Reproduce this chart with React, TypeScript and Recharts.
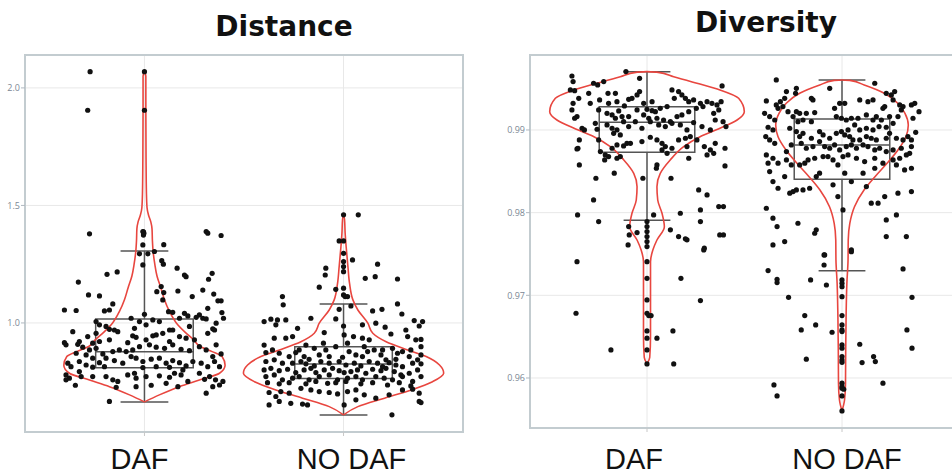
import {
  ScatterChart,
  Scatter,
  XAxis,
  YAxis,
  CartesianGrid,
  ReferenceArea,
  ReferenceLine,
} from 'recharts';

type Pair = [number, number];

const categories = ['DAF', 'NO DAF'];

const distanceTicks = [1.0, 1.5, 2.0];
const diversityTicks = [0.96, 0.97, 0.98, 0.99];

// [lower whisker, q1, median, q3, upper whisker]
const distanceBoxes = [
  [0.664, 0.809, 0.877, 1.017, 1.306],
  [0.608, 0.764, 0.825, 0.899, 1.081],
];
const diversityBoxes = [
  [0.97907, 0.9873, 0.99093, 0.99282, 0.99705],
  [0.97298, 0.98403, 0.98819, 0.99133, 0.99605],
];

// violin outlines: [value, half width]
const distanceDafViolin: Pair[] = [
  [2.069, 0], [2.05, 0.007], [1.9, 0.007], [1.7, 0.008], [1.55, 0.01], [1.49, 0.013],
  [1.46, 0.02], [1.43, 0.032], [1.4, 0.038], [1.35, 0.04], [1.3, 0.044], [1.25, 0.052],
  [1.2, 0.063], [1.15, 0.082], [1.1, 0.1], [1.05, 0.125], [1.0, 0.16], [0.96, 0.205],
  [0.93, 0.245], [0.9, 0.28], [0.878, 0.34], [0.857, 0.39], [0.82, 0.405], [0.786, 0.377],
  [0.757, 0.276], [0.729, 0.176], [0.694, 0.075], [0.664, 0],
];
const distanceNoDafViolin: Pair[] = [
  [1.46, 0], [1.44, 0.005], [1.382, 0.008], [1.325, 0.013], [1.24, 0.022], [1.169, 0.03],
  [1.098, 0.047], [1.055, 0.072], [0.999, 0.122], [0.956, 0.147], [0.92, 0.214], [0.885, 0.322],
  [0.857, 0.415], [0.821, 0.482], [0.786, 0.503], [0.75, 0.447], [0.715, 0.34], [0.68, 0.206],
  [0.644, 0.072], [0.609, 0],
];
const diversityDafViolin: Pair[] = [
  [0.99706, 0], [0.997, 0.05], [0.99645, 0.137], [0.99565, 0.256], [0.99484, 0.374],
  [0.99383, 0.47], [0.99222, 0.499], [0.99121, 0.462], [0.9902, 0.374], [0.98919, 0.272],
  [0.98798, 0.188], [0.98637, 0.119], [0.98476, 0.068], [0.98314, 0.051], [0.98153, 0.055],
  [0.97992, 0.077], [0.9783, 0.089], [0.97669, 0.051], [0.97548, 0.03], [0.97407, 0.018],
  [0.97, 0.018], [0.965, 0.018], [0.9625, 0.014], [0.9617, 0],
];
const diversityNoDafViolin: Pair[] = [
  [0.99605, 0], [0.996, 0.04], [0.99544, 0.114], [0.99444, 0.217], [0.99323, 0.286],
  [0.99202, 0.323], [0.9906, 0.34], [0.98919, 0.328], [0.98758, 0.287], [0.98597, 0.231],
  [0.98435, 0.169], [0.98274, 0.113], [0.98072, 0.064], [0.97871, 0.04], [0.97669, 0.032],
  [0.97427, 0.031], [0.97146, 0.025], [0.96742, 0.021], [0.96339, 0.019], [0.95936, 0.018],
  [0.95734, 0.013], [0.95601, 0],
];

// jittered points: [offset from category, value]
const distanceDafPoints: Pair[] = [
  [-0.273, 2.069], [-0.285, 1.905], [0, 2.069], [0, 1.905], [-0.005, 1.388], [-0.003, 1.382],
  [-0.276, 1.379], [-0.008, 1.389], [-0.005, 1.374], [0.31, 1.389], [0.318, 1.382], [0.385, 1.372],
  [-0.008, 1.332], [0.097, 1.333], [-0.025, 1.294], [0.017, 1.294], [0.05, 1.304], [-0.008, 1.247],
  [0.087, 1.265], [0.095, 1.25], [0.164, 1.233], [-0.188, 1.207], [-0.137, 1.217], [0.201, 1.204],
  [0.209, 1.197], [0.34, 1.211], [-0.332, 1.174], [0.084, 1.155], [0.322, 1.186], [-0.281, 1.119],
  [-0.226, 1.115], [0.062, 1.133], [0.097, 1.129], [0.168, 1.136], [0.24, 1.112], [0.348, 1.123],
  [0.293, 1.14], [-0.402, 1.055], [-0.343, 1.053], [-0.201, 1.051], [-0.176, 1.055], [-0.159, 1.081],
  [0.092, 1.098], [0, 1.037], [0.121, 1.048], [0.142, 1.045], [0.201, 1.041], [0.218, 1.03],
  [0.276, 1.034], [0.318, 1.062], [0.369, 1.094], [0.385, 1.094], [0.389, 1.044], [0.397, 1.02],
  [-0.243, 1.006], [-0.193, 0.985], [-0.067, 1.02], [-0.025, 1.006], [0.042, 1.013], [0.075, 1.006],
  [0.176, 1.02], [0.26, 1.024], [0.293, 1.02], [0.31, 1.017], [0.36, 0.999], [-0.226, 0.992],
  [-0.176, 0.973], [-0.151, 0.97], [-0.05, 0.977], [0.008, 0.992], [0.126, 0.97], [0.226, 0.985],
  [0.343, 0.975], [-0.36, 0.963], [-0.285, 0.942], [-0.243, 0.956], [-0.134, 0.963], [-0.059, 0.945],
  [-0.042, 0.939], [0.008, 0.928], [0.042, 0.945], [0.059, 0.949], [0.092, 0.956], [0.142, 0.97],
  [0.176, 0.942], [0.209, 0.935], [0.251, 0.928], [0.318, 0.956], [0.352, 0.97], [-0.402, 0.916],
  [-0.327, 0.921], [-0.26, 0.914], [-0.226, 0.921], [-0.176, 0.928], [-0.084, 0.916], [0.126, 0.921],
  [-0.394, 0.907], [-0.335, 0.909], [-0.31, 0.897], [-0.276, 0.885], [-0.243, 0.892], [-0.209, 0.868],
  [-0.159, 0.878], [-0.126, 0.885], [-0.092, 0.878], [-0.059, 0.885], [-0.025, 0.899], [0.025, 0.907],
  [0.059, 0.897], [0.101, 0.892], [0.142, 0.907], [0.184, 0.888], [0.226, 0.882], [0.276, 0.899],
  [0.31, 0.885], [0.36, 0.907], [0.385, 0.868], [0.343, 0.857], [-0.293, 0.864], [-0.343, 0.871],
  [-0.385, 0.829], [-0.369, 0.814], [-0.327, 0.836], [-0.293, 0.821], [-0.26, 0.85], [-0.226, 0.831],
  [-0.193, 0.85], [-0.151, 0.84], [-0.109, 0.829], [-0.067, 0.857], [-0.042, 0.85], [-0.008, 0.836],
  [0.034, 0.846], [0.075, 0.85], [0.109, 0.829], [0.142, 0.84], [0.176, 0.831], [0.209, 0.817],
  [0.243, 0.836], [0.285, 0.829], [0.318, 0.814], [0.352, 0.836], [0.377, 0.814], [-0.26, 0.812],
  [-0.201, 0.814], [-0.008, 0.81], [0.059, 0.814], [0.126, 0.811], [0.193, 0.8], [-0.394, 0.779],
  [-0.377, 0.765], [-0.327, 0.793], [-0.318, 0.772], [-0.26, 0.772], [-0.193, 0.772], [-0.159, 0.758],
  [-0.134, 0.751], [-0.084, 0.779], [-0.05, 0.786], [-0.042, 0.765], [0.008, 0.772], [0.075, 0.775],
  [0.126, 0.769], [0.151, 0.786], [0.184, 0.779], [0.218, 0.751], [0.276, 0.786], [0.302, 0.76],
  [0.327, 0.772], [0.357, 0.758], [0.394, 0.751], [0.377, 0.736], [-0.394, 0.758], [-0.347, 0.735],
  [-0.142, 0.726], [-0.042, 0.729], [0.034, 0.735], [0.109, 0.743], [0.168, 0.729], [0.31, 0.701],
  [0.343, 0.729], [-0.176, 0.666],
];

const distanceNoDafPoints: Pair[] = [
  [0, 1.46], [0.074, 1.46], [-0.022, 1.349], [0, 1.349], [0, 1.296], [0.045, 1.268], [0, 1.261],
  [0, 1.24], [0, 1.218], [0.171, 1.25], [-0.089, 1.233], [-0.092, 1.204], [0.109, 1.19], [0.159, 1.197],
  [0.271, 1.187], [-0.122, 1.152], [-0.039, 1.143], [0, 1.148], [0, 1.119], [0.008, 1.112], [0.02, 1.112],
  [-0.307, 1.112], [-0.303, 1.077], [0.271, 1.081], [-0.022, 1.058], [0.037, 1.072], [0.146, 1.051],
  [0.193, 1.058], [0.293, 1.038], [-0.399, 1.006], [-0.365, 1.016], [-0.34, 0.992], [-0.332, 1.013],
  [-0.29, 1.013], [-0.164, 1.02], [-0.039, 1.017], [0, 0.987], [0.095, 0.992], [0.162, 0.999],
  [0.209, 0.982], [0.355, 1.01], [0.397, 1.006], [0.38, 0.987], [-0.231, 0.977], [-0.097, 0.959],
  [0.003, 0.949], [0.05, 0.942], [0.095, 0.935], [0.129, 0.928], [0.238, 0.953], [0.313, 0.97],
  [0.322, 0.942], [0.363, 0.928], [0.389, 0.93], [-0.399, 0.906], [-0.39, 0.874], [-0.348, 0.935],
  [-0.29, 0.935], [-0.256, 0.942], [-0.189, 0.906], [-0.223, 0.885], [-0.147, 0.892], [-0.101, 0.914],
  [-0.089, 0.885], [-0.039, 0.899], [0.02, 0.914], [0.028, 0.878], [0.104, 0.899], [0.121, 0.878],
  [0.154, 0.885], [0.196, 0.885], [0.246, 0.892], [0.271, 0.871], [0.296, 0.878], [0.338, 0.885],
  [0.389, 0.899], [0.389, 0.864], [-0.357, 0.885], [-0.323, 0.871], [-0.273, 0.857], [-0.24, 0.874],
  [-0.198, 0.857], [-0.173, 0.845], [-0.122, 0.864], [-0.072, 0.857], [-0.005, 0.854], [0.062, 0.864],
  [0.095, 0.857], [0.188, 0.864], [0.213, 0.843], [0.263, 0.845], [0.33, 0.857], [0.372, 0.843],
  [-0.39, 0.836], [-0.348, 0.843], [-0.307, 0.829], [-0.256, 0.829], [-0.214, 0.836], [-0.189, 0.826],
  [-0.147, 0.817], [-0.114, 0.836], [-0.072, 0.829], [-0.022, 0.836], [0.012, 0.821], [0.054, 0.829],
  [0.087, 0.817], [0.129, 0.836], [0.171, 0.829], [0.196, 0.814], [0.229, 0.831], [0.263, 0.821],
  [0.296, 0.814], [0.347, 0.829], [0.389, 0.826], [-0.399, 0.8], [-0.365, 0.807], [-0.323, 0.797],
  [-0.281, 0.803], [-0.24, 0.789], [-0.198, 0.8], [-0.164, 0.807], [-0.139, 0.789], [-0.097, 0.8],
  [-0.055, 0.807], [-0.022, 0.797], [0.003, 0.789], [0.037, 0.793], [0.07, 0.8], [0.112, 0.786],
  [0.146, 0.803], [0.188, 0.797], [0.213, 0.807], [0.255, 0.793], [0.288, 0.779], [0.33, 0.786],
  [0.372, 0.8], [-0.39, 0.772], [-0.348, 0.779], [-0.307, 0.758], [-0.256, 0.765], [-0.223, 0.772],
  [-0.173, 0.758], [-0.122, 0.772], [-0.072, 0.779], [-0.03, 0.758], [0.02, 0.765], [0.062, 0.772],
  [0.095, 0.758], [0.162, 0.772], [0.204, 0.765], [0.246, 0.758], [0.296, 0.772], [0.347, 0.751],
  [0.389, 0.772], [-0.382, 0.746], [-0.323, 0.741], [-0.273, 0.746], [-0.189, 0.741], [-0.139, 0.751],
  [-0.08, 0.743], [-0.039, 0.746], [0.012, 0.751], [0.087, 0.741], [0.146, 0.746], [0.221, 0.736],
  [0.28, 0.746], [0.338, 0.732], [-0.374, 0.704], [-0.34, 0.687], [-0.315, 0.708], [-0.273, 0.701],
  [-0.214, 0.722], [-0.164, 0.715], [-0.122, 0.708], [-0.072, 0.704], [-0.03, 0.698], [0.02, 0.708],
  [0.062, 0.715], [0.104, 0.694], [0.162, 0.68], [0.229, 0.694], [0.296, 0.715], [0.347, 0.718],
  [0.38, 0.701], [-0.374, 0.651], [-0.323, 0.666], [-0.265, 0.658], [-0.206, 0.655], [-0.181, 0.651],
  [0.003, 0.651], [0.062, 0.673], [0.38, 0.666], [0.389, 0.661], [0.243, 0.609],
];

const diversityDafPoints: Pair[] = [
  [-0.385, 0.99653], [-0.379, 0.99585], [-0.393, 0.99484], [-0.371, 0.99476], [-0.35, 0.99383],
  [-0.379, 0.99323], [-0.385, 0.99242], [-0.359, 0.99162], [-0.371, 0.99142], [-0.333, 0.99021],
  [-0.321, 0.99001], [-0.347, 0.9888], [-0.354, 0.98779], [-0.359, 0.98771], [-0.347, 0.98577],
  [-0.262, 0.98416], [-0.274, 0.98154], [-0.356, 0.97973], [-0.248, 0.97892], [-0.274, 0.99565],
  [-0.299, 0.99444], [-0.253, 0.99545], [-0.222, 0.99585], [-0.291, 0.99323], [-0.243, 0.99363],
  [-0.248, 0.99242], [-0.265, 0.99081], [-0.256, 0.99009], [-0.248, 0.9888], [-0.239, 0.98739],
  [-0.214, 0.98698], [-0.217, 0.98638], [-0.197, 0.98678], [-0.168, 0.98477], [-0.154, 0.98658],
  [-0.137, 0.98678], [-0.108, 0.99706], [-0.038, 0.99625], [-0.2, 0.99444], [-0.162, 0.99444],
  [-0.197, 0.99323], [-0.154, 0.99343], [-0.145, 0.9923], [-0.116, 0.99291], [-0.094, 0.99371],
  [-0.077, 0.99383], [-0.051, 0.99424], [-0.038, 0.99464], [-0.017, 0.99323], [0, 0.9925],
  [0.026, 0.99343], [0.026, 0.99234], [0.043, 0.99222], [0.068, 0.99262], [0.103, 0.99283],
  [0.128, 0.99484], [0.14, 0.99383], [0.162, 0.99464], [0.179, 0.99424], [0.197, 0.99383],
  [0.214, 0.99343], [0.239, 0.99363], [0.274, 0.99323], [0.308, 0.99343], [0.333, 0.99323],
  [0.359, 0.99303], [0.368, 0.99242], [0.342, 0.99202], [-0.205, 0.99202], [-0.179, 0.99182],
  [-0.162, 0.99142], [-0.128, 0.99162], [-0.094, 0.99162], [-0.051, 0.99242], [-0.017, 0.99182],
  [0.009, 0.99142], [0.051, 0.99142], [0.085, 0.99121], [0.12, 0.99101], [0.154, 0.99162],
  [0.179, 0.99182], [0.214, 0.99222], [0.253, 0.99262], [0.287, 0.99283], [-0.205, 0.99061],
  [-0.179, 0.99021], [-0.154, 0.99001], [-0.12, 0.99101], [-0.094, 0.99041], [-0.06, 0.99101],
  [-0.026, 0.99021], [0.017, 0.99101], [0.06, 0.99061], [0.094, 0.99041], [0.128, 0.99081],
  [0.171, 0.99061], [0.205, 0.99001], [0.239, 0.99089], [0.282, 0.99041], [0.325, 0.99001],
  [0.35, 0.99121], [-0.171, 0.9896], [-0.137, 0.9894], [-0.103, 0.98839], [-0.085, 0.98839],
  [-0.026, 0.9886], [0.017, 0.98912], [0.051, 0.9888], [0.077, 0.98839], [0.094, 0.98799],
  [0.128, 0.98779], [0.162, 0.9888], [0.197, 0.989], [0.222, 0.9892], [0.256, 0.9888],
  [0.294, 0.98799], [0.325, 0.98759], [0.342, 0.98718], [0.35, 0.98839], [-0.154, 0.98819],
  [-0.12, 0.98807], [-0.179, 0.98779], [0.077, 0.98759], [0.103, 0.98718], [0.205, 0.98799],
  [0.214, 0.98658], [0.308, 0.98698], [0.051, 0.98577], [0.048, 0.98537], [-0.021, 0.98416],
  [0.123, 0.98416], [0.171, 0.97993], [0.205, 0.97671], [0.265, 0.98275], [0.308, 0.98215],
  [0.368, 0.98074], [0.274, 0.98033], [0.274, 0.97892], [0.373, 0.97731], [0.034, 0.97973],
  [-0.094, 0.97832], [-0.091, 0.97731], [-0.051, 0.97759], [-0.097, 0.9761], [0, 0.97892],
  [0, 0.97832], [0, 0.97771], [0, 0.97711], [0, 0.9765], [0, 0.9759], [0.12, 0.97792],
  [0.162, 0.97711], [0.197, 0.97683], [0.294, 0.9757], [-0.359, 0.97407], [-0.364, 0.96783],
  [-0.185, 0.96339], [0, 0.97407], [0, 0.97206], [0, 0.96944], [0, 0.96783], [0.009, 0.96755],
  [0.021, 0.96755], [0, 0.96569], [0, 0.96481], [0.051, 0.96481], [0.133, 0.96569], [0.137, 0.9617],
  [0, 0.96339], [0, 0.9617], [0.174, 0.97206], [0.274, 0.96936], [0.291, 0.97549], [0.385, 0.99533],
  [0.39, 0.99101], [0.4, 0.98779], [0.4, 0.98565], [0.392, 0.98074], [0.392, 0.97731], [0.38, 0.99343],
  [0.405, 0.99041],
];

const diversityNoDafPoints: Pair[] = [
  [-0.337, 0.99605], [-0.234, 0.99504], [-0.238, 0.99444], [-0.285, 0.99464], [-0.294, 0.99383],
  [-0.316, 0.99343], [-0.337, 0.99303], [-0.328, 0.99262], [-0.388, 0.99351], [-0.397, 0.99202],
  [-0.371, 0.99162], [-0.345, 0.99121], [-0.379, 0.99033], [-0.354, 0.99001], [-0.391, 0.9892],
  [-0.371, 0.9888], [-0.345, 0.98839], [-0.303, 0.99283], [-0.277, 0.99222], [-0.251, 0.99162],
  [-0.234, 0.99222], [-0.217, 0.99202], [-0.183, 0.99202], [-0.14, 0.9921], [-0.226, 0.99101],
  [-0.2, 0.99121], [-0.157, 0.99101], [-0.149, 0.99363], [-0.157, 0.99383], [-0.063, 0.99504],
  [-0.038, 0.99262], [-0.012, 0.99323], [0.014, 0.99323], [-0.029, 0.99162], [-0.003, 0.99142],
  [0.022, 0.99121], [0.048, 0.99142], [0.082, 0.99142], [0.125, 0.99182], [0.159, 0.99121],
  [0.176, 0.99162], [0.202, 0.99121], [0.21, 0.99262], [0.219, 0.99283], [0.244, 0.99162],
  [0.065, 0.99061], [0.091, 0.99001], [0.125, 0.99021], [0.159, 0.99001], [0.19, 0.99041],
  [0.227, 0.99033], [0.262, 0.99081], [0.287, 0.99162], [0.304, 0.99242], [0.313, 0.99283],
  [0.356, 0.99303], [0.373, 0.99323], [0.395, 0.99222], [0.364, 0.99142], [0.378, 0.98972],
  [0.091, 0.99363], [0.133, 0.99343], [0.159, 0.99363], [0.168, 0.99565], [0.227, 0.99444],
  [0.253, 0.99424], [0.27, 0.99464], [0.262, 0.99363], [0.296, 0.99303], [-0.268, 0.99021],
  [-0.234, 0.98981], [-0.217, 0.9892], [-0.2, 0.9896], [-0.157, 0.989], [-0.115, 0.98981],
  [-0.097, 0.9894], [-0.063, 0.989], [-0.029, 0.9896], [-0.003, 0.98981], [0.014, 0.9894],
  [0.031, 0.99001], [0.039, 0.9892], [0.056, 0.9888], [0.091, 0.9888], [0.125, 0.9892],
  [0.15, 0.989], [0.176, 0.9888], [0.227, 0.989], [0.244, 0.9896], [0.279, 0.989], [0.313, 0.9888],
  [0.338, 0.9892], [0.356, 0.9888], [0.356, 0.98799], [0.347, 0.98718], [-0.26, 0.98819],
  [-0.209, 0.98839], [-0.183, 0.98779], [-0.149, 0.98799], [-0.115, 0.9886], [-0.089, 0.98799],
  [-0.063, 0.98779], [-0.038, 0.98819], [-0.012, 0.98759], [0.022, 0.98799], [0.048, 0.98819],
  [0.074, 0.98779], [0.108, 0.98819], [0.133, 0.98799], [0.168, 0.98759], [0.193, 0.98779],
  [0.227, 0.98739], [0.262, 0.98759], [0.304, 0.98779], [-0.388, 0.98698], [-0.354, 0.98658],
  [-0.379, 0.98598], [-0.328, 0.98598], [-0.285, 0.98638], [-0.26, 0.98577], [-0.217, 0.98577],
  [-0.191, 0.98598], [-0.174, 0.98638], [-0.14, 0.98658], [-0.097, 0.98678], [-0.072, 0.98678],
  [-0.046, 0.98638], [-0.021, 0.98577], [0.005, 0.98678], [0.031, 0.98698], [0.074, 0.98658],
  [0.116, 0.98618], [0.168, 0.98658], [0.21, 0.98598], [0.262, 0.98638], [0.296, 0.98658],
  [0.33, 0.98698], [0.356, 0.98537], [0.321, 0.98517], [0.279, 0.98577], [-0.285, 0.98739],
  [-0.371, 0.98497], [-0.354, 0.98376], [-0.328, 0.98295], [-0.294, 0.98436], [-0.268, 0.98235],
  [-0.251, 0.98255], [-0.234, 0.98275], [-0.2, 0.98275], [-0.166, 0.98295], [-0.132, 0.98436],
  [-0.115, 0.98477], [-0.046, 0.98336], [-0.021, 0.98194], [0.014, 0.98477], [0.048, 0.98376],
  [0.108, 0.98477], [0.125, 0.98315], [0.168, 0.98537], [0.219, 0.98194], [0.185, 0.98114],
  [0.15, 0.98114], [0.287, 0.98235], [0.356, 0.98255], [-0.388, 0.98053], [-0.354, 0.97933],
  [-0.333, 0.97832], [-0.226, 0.97872], [-0.132, 0.97792], [-0.14, 0.97751], [-0.294, 0.9765],
  [-0.354, 0.9761], [0.005, 0.98033], [0.227, 0.97912], [0.279, 0.97973], [0.227, 0.97711],
  [0.33, 0.97711], [-0.089, 0.97489], [0.048, 0.9755], [-0.092, 0.97488], [-0.092, 0.97367],
  [0.048, 0.97528], [-0.379, 0.97299], [-0.333, 0.97194], [-0.333, 0.97154], [-0.161, 0.97186],
  [-0.08, 0.97125], [0, 0.97186], [0, 0.97146], [0, 0.97105], [0, 0.96984], [-0.274, 0.96976],
  [0.313, 0.97319], [0.359, 0.96976], [0, 0.96755], [-0.191, 0.96755], [-0.135, 0.96642],
  [-0.209, 0.96581], [-0.051, 0.96553], [0, 0.96642], [0, 0.96581], [0, 0.96561], [0.333, 0.96581],
  [0.359, 0.9636], [0, 0.964], [0, 0.9636], [0.091, 0.96408], [-0.183, 0.96227], [0, 0.96259],
  [0, 0.96219], [0, 0.9619], [0.103, 0.96186], [0.162, 0.96259], [0.171, 0.96198], [-0.349, 0.95916],
  [-0.333, 0.95783], [0, 0.95937], [0, 0.95896], [0, 0.95876], [0.009, 0.95864], [0, 0.95783],
  [0, 0.95602], [0.21, 0.95937],
];

const VIOLIN = '#e8463f';
const BOX = '#555555';
const FRAME = '#c3ccd0';
const GRID = '#e8e8e8';
const TICK_TEXT = '#7b8794';

const Dot = (props: any) => <circle cx={props.cx} cy={props.cy} r={2.6} fill="#111" />;
const NoShape = () => <g />;

interface PanelProps {
  left: number;
  width: number;
  marginRight: number;
  yAxisWidth: number;
  axisHeight: number;
  labelMargin: number;
  yDomain: [number, number];
  yTicks: number[];
  digits: number;
  boxes: number[][];
  violins: Pair[][];
  points: Pair[][];
  labelShift: number[];
}

function Panel(p: PanelProps) {
  const xDomain: [number, number] = [-0.6, 1.6];
  const sides = p.violins.flatMap((profile, i) => [
    profile.map(([v, hw]) => ({ x: i - hw, y: v })),
    profile.map(([v, hw]) => ({ x: i + hw, y: v })),
  ]);
  const dots = p.points.flatMap((group, i) =>
    group.map(([dx, v]) => ({ x: i + dx, y: v }))
  );

  const CategoryTick = (t: any) => (
    <text
      x={t.x + p.labelShift[t.payload.value]}
      y={t.y}
      dy="0.71em"
      textAnchor="middle"
      fontSize={29}
      fontFamily="'Liberation Sans', Arial, sans-serif"
      fill="#111"
    >
      {categories[t.payload.value]}
    </text>
  );

  return (
    <div style={{ position: 'absolute', left: p.left, top: 0 }}>
      <ScatterChart
        width={p.width}
        height={474}
        margin={{ top: 55, right: p.marginRight, bottom: 0, left: 0 }}
      >
        <CartesianGrid stroke={GRID} strokeWidth={1} />
        <XAxis
          dataKey="x"
          type="number"
          domain={xDomain}
          ticks={[0, 1]}
          allowDataOverflow
          interval={0}
          height={p.axisHeight}
          axisLine={false}
          tickLine={{ stroke: '#c8c8c8' }}
          tickSize={4}
          tickMargin={p.labelMargin}
          tick={CategoryTick}
        />
        <YAxis
          dataKey="y"
          type="number"
          domain={p.yDomain}
          ticks={p.yTicks}
          allowDataOverflow
          interval={0}
          width={p.yAxisWidth}
          axisLine={false}
          tickLine={{ stroke: '#b0b8c0' }}
          tickSize={4}
          tickMargin={1}
          tick={{ fontSize: 9, fill: TICK_TEXT, fontFamily: "'Open Sans', sans-serif" }}
          tickFormatter={(v: number) => v.toFixed(p.digits)}
        />
        <ReferenceArea
          x1={xDomain[0]}
          x2={xDomain[1]}
          y1={p.yDomain[0]}
          y2={p.yDomain[1]}
          fill="none"
          stroke={FRAME}
          strokeWidth={2}
          ifOverflow="visible"
        />
        {sides.map((side, k) => (
          <Scatter
            key={'v' + k}
            data={side}
            line={{ stroke: VIOLIN, strokeWidth: 1.6 }}
            lineJointType="monotoneY"
            shape={NoShape}
            isAnimationActive={false}
          />
        ))}
        {p.boxes.map(([lo, q1, med, q3, hi], i) => (
          <ReferenceArea
            key={'b' + i}
            x1={i - 0.245}
            x2={i + 0.245}
            y1={q1}
            y2={q3}
            fill="none"
            stroke={BOX}
            strokeWidth={1.5}
          />
        ))}
        {p.boxes.flatMap(([lo, q1, med, q3, hi], i) => [
          [[i - 0.245, med], [i + 0.245, med]],
          [[i, q3], [i, hi]],
          [[i, q1], [i, lo]],
          [[i - 0.12, hi], [i + 0.12, hi]],
          [[i - 0.12, lo], [i + 0.12, lo]],
        ]).map((seg, k) => (
          <ReferenceLine
            key={'s' + k}
            segment={[
              { x: seg[0][0], y: seg[0][1] },
              { x: seg[1][0], y: seg[1][1] },
            ]}
            stroke={BOX}
            strokeWidth={1.5}
          />
        ))}
        <Scatter data={dots} shape={Dot} isAnimationActive={false} />
      </ScatterChart>
    </div>
  );
}

export default function App() {
  return (
    <div
      style={{
        position: 'absolute',
        left: 0,
        top: 0,
        width: 952,
        height: 474,
        overflow: 'hidden',
        background: '#fff',
      }}
    >
      <Panel
        left={0}
        width={480}
        marginRight={17}
        yAxisWidth={25}
        axisHeight={42}
        labelMargin={12}
        yDomain={[0.536, 2.14]}
        yTicks={distanceTicks}
        digits={1}
        boxes={distanceBoxes}
        violins={[distanceDafViolin, distanceNoDafViolin]}
        points={[distanceDafPoints, distanceNoDafPoints]}
        labelShift={[-5, 8]}
      />
      <Panel
        left={480}
        width={490}
        marginRight={11}
        yAxisWidth={50}
        axisHeight={46}
        labelMargin={16}
        yDomain={[0.95395, 0.99907]}
        yTicks={diversityTicks}
        digits={2}
        boxes={diversityBoxes}
        violins={[diversityDafViolin, diversityNoDafViolin]}
        points={[diversityDafPoints, diversityNoDafPoints]}
        labelShift={[-13, 5]}
      />
      <svg
        width={952}
        height={474}
        style={{ position: 'absolute', left: 0, top: 0, pointerEvents: 'none' }}
      >
        <text
          x={284}
          y={36}
          textAnchor="middle"
          fontSize={28}
          fontWeight="bold"
          fontFamily="'DejaVu Sans', Verdana, sans-serif"
          fill="#111"
        >
          Distance
        </text>
        <text
          x={766}
          y={32}
          textAnchor="middle"
          fontSize={28}
          fontWeight="bold"
          fontFamily="'DejaVu Sans', Verdana, sans-serif"
          fill="#111"
        >
          Diversity
        </text>
      </svg>
    </div>
  );
}
